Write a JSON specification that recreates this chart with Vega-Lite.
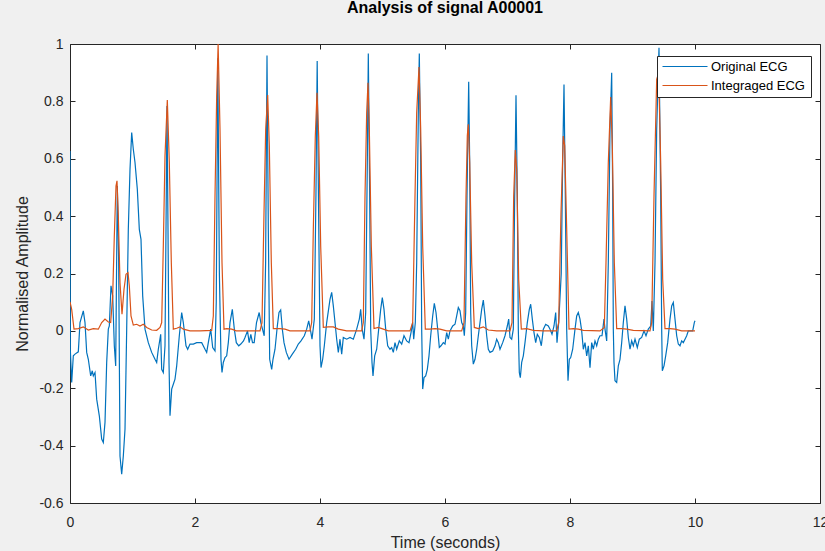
{
"$schema":"https://vega.github.io/schema/vega-lite/v6.json",
"width":750,"height":459,
"autosize":{"type":"none"},
"padding":{"left":70,"top":44,"right":5,"bottom":48},
"background":"#f0f0f0",
"config":{"view":{"fill":"white","stroke":"#262626","strokeWidth":1},"font":"Liberation Sans"},
"title":{"text":"Analysis of signal A00001","fontSize":16,"fontWeight":"bold","color":"#000000","font":"Liberation Sans","offset":8,"baseline":"alphabetic"},
"datasets":{
"orig":[
{"t":0,"v":0.627},{"t":0.005,"v":-0.064},{"t":0.027,"v":-0.18},{"t":0.053,"v":-0.087},{"t":0.08,"v":-0.081},{"t":0.133,"v":-0.073},{"t":0.16,"v":0.029},{"t":0.213,"v":0.07},{"t":0.24,"v":0.029},{"t":0.267,"v":-0.075},{"t":0.293,"v":-0.099},{"t":0.331,"v":-0.157},{"t":0.357,"v":-0.139},{"t":0.373,"v":-0.157},{"t":0.4,"v":-0.145},{"t":0.427,"v":-0.238},{"t":0.469,"v":-0.296},{"t":0.507,"v":-0.377},{"t":0.533,"v":-0.389},{"t":0.56,"v":-0.319},{"t":0.587,"v":-0.11},{"t":0.613,"v":0.006},{"t":0.629,"v":0.017},{"t":0.656,"v":0.157},{"t":0.683,"v":0.122},{"t":0.709,"v":-0.052},{"t":0.731,"v":-0.122},{"t":0.757,"v":0.505},{"t":0.779,"v":0.238},{"t":0.8,"v":-0.436},{"t":0.827,"v":-0.5},{"t":0.853,"v":-0.436},{"t":0.88,"v":-0.343},{"t":0.907,"v":0.006},{"t":0.933,"v":0.354},{"t":0.96,"v":0.563},{"t":0.987,"v":0.691},{"t":1.013,"v":0.633},{"t":1.04,"v":0.587},{"t":1.077,"v":0.494},{"t":1.109,"v":0.354},{"t":1.136,"v":0.319},{"t":1.163,"v":0.122},{"t":1.2,"v":0.006},{"t":1.253,"v":-0.041},{"t":1.307,"v":-0.075},{"t":1.36,"v":-0.099},{"t":1.387,"v":-0.11},{"t":1.413,"v":-0.064},{"t":1.451,"v":-0.012},{"t":1.467,"v":-0.134},{"t":1.493,"v":-0.145},{"t":1.52,"v":-0.052},{"t":1.536,"v":0.354},{"t":1.552,"v":0.784},{"t":1.568,"v":0.354},{"t":1.584,"v":-0.11},{"t":1.6,"v":-0.296},{"t":1.627,"v":-0.203},{"t":1.653,"v":-0.186},{"t":1.68,"v":-0.168},{"t":1.707,"v":-0.122},{"t":1.749,"v":-0.017},{"t":1.787,"v":0.064},{"t":1.813,"v":0.029},{"t":1.856,"v":-0.052},{"t":1.883,"v":-0.064},{"t":1.92,"v":-0.046},{"t":1.973,"v":-0.046},{"t":2.027,"v":-0.041},{"t":2.107,"v":-0.041},{"t":2.16,"v":-0.064},{"t":2.187,"v":-0.075},{"t":2.213,"v":-0.041},{"t":2.251,"v":0.006},{"t":2.283,"v":-0.058},{"t":2.32,"v":-0.07},{"t":2.34,"v":0.1},{"t":2.365,"v":0.95},{"t":2.39,"v":0.2},{"t":2.416,"v":-0.1},{"t":2.432,"v":-0.145},{"t":2.453,"v":-0.11},{"t":2.48,"v":-0.093},{"t":2.507,"v":-0.087},{"t":2.533,"v":-0.041},{"t":2.56,"v":0.029},{"t":2.597,"v":0.075},{"t":2.629,"v":0.006},{"t":2.661,"v":-0.041},{"t":2.7,"v":-0.052},{"t":2.733,"v":-0.046},{"t":2.776,"v":-0.035},{"t":2.8,"v":-0.023},{"t":2.84,"v":0},{"t":2.867,"v":-0.041},{"t":2.893,"v":-0.012},{"t":2.92,"v":-0.041},{"t":2.947,"v":-0.041},{"t":2.984,"v":0.029},{"t":3.027,"v":0.064},{"t":3.053,"v":0.029},{"t":3.08,"v":0.006},{"t":3.107,"v":-0.017},{"t":3.13,"v":0.238},{"t":3.152,"v":0.96},{"t":3.173,"v":0.354},{"t":3.195,"v":-0.099},{"t":3.227,"v":-0.134},{"t":3.248,"v":-0.099},{"t":3.28,"v":-0.064},{"t":3.317,"v":0.017},{"t":3.344,"v":0.064},{"t":3.371,"v":0.073},{"t":3.397,"v":0.006},{"t":3.424,"v":-0.041},{"t":3.461,"v":-0.075},{"t":3.504,"v":-0.099},{"t":3.557,"v":-0.081},{"t":3.611,"v":-0.064},{"t":3.653,"v":-0.046},{"t":3.696,"v":-0.035},{"t":3.749,"v":-0.017},{"t":3.787,"v":0.006},{"t":3.819,"v":0.035},{"t":3.845,"v":0.006},{"t":3.872,"v":-0.029},{"t":3.909,"v":0.041},{"t":3.935,"v":0.47},{"t":3.955,"v":0.941},{"t":3.975,"v":0.47},{"t":4.0,"v":-0.052},{"t":4.016,"v":-0.128},{"t":4.043,"v":-0.099},{"t":4.069,"v":-0.052},{"t":4.107,"v":0.029},{"t":4.16,"v":0.11},{"t":4.187,"v":0.134},{"t":4.213,"v":0.087},{"t":4.24,"v":0.029},{"t":4.267,"v":-0.029},{"t":4.293,"v":-0.075},{"t":4.32,"v":-0.029},{"t":4.347,"v":-0.081},{"t":4.373,"v":-0.023},{"t":4.427,"v":-0.029},{"t":4.48,"v":-0.023},{"t":4.533,"v":-0.029},{"t":4.587,"v":0.006},{"t":4.629,"v":0.041},{"t":4.651,"v":0.075},{"t":4.675,"v":0.006},{"t":4.704,"v":-0.029},{"t":4.731,"v":0.064},{"t":4.757,"v":0.587},{"t":4.773,"v":0.967},{"t":4.795,"v":0.47},{"t":4.811,"v":0.006},{"t":4.832,"v":-0.11},{"t":4.848,"v":-0.157},{"t":4.875,"v":-0.087},{"t":4.907,"v":-0.064},{"t":4.939,"v":0.006},{"t":4.971,"v":0.075},{"t":4.997,"v":0.116},{"t":5.024,"v":0.075},{"t":5.051,"v":0.006},{"t":5.083,"v":-0.052},{"t":5.12,"v":-0.064},{"t":5.147,"v":-0.058},{"t":5.173,"v":-0.075},{"t":5.2,"v":-0.041},{"t":5.227,"v":-0.064},{"t":5.269,"v":-0.035},{"t":5.307,"v":-0.046},{"t":5.344,"v":-0.017},{"t":5.387,"v":-0.035},{"t":5.424,"v":-0.041},{"t":5.456,"v":-0.006},{"t":5.483,"v":0.029},{"t":5.499,"v":-0.029},{"t":5.525,"v":0.029},{"t":5.547,"v":0.238},{"t":5.573,"v":0.761},{"t":5.589,"v":0.967},{"t":5.611,"v":0.587},{"t":5.627,"v":0.006},{"t":5.643,"v":-0.203},{"t":5.664,"v":-0.163},{"t":5.691,"v":-0.157},{"t":5.717,"v":-0.134},{"t":5.744,"v":-0.087},{"t":5.771,"v":-0.017},{"t":5.803,"v":0.052},{"t":5.829,"v":0.096},{"t":5.856,"v":0.064},{"t":5.883,"v":0.006},{"t":5.909,"v":-0.058},{"t":5.936,"v":-0.052},{"t":5.973,"v":-0.041},{"t":6.0,"v":-0.046},{"t":6.027,"v":-0.006},{"t":6.053,"v":-0.029},{"t":6.08,"v":0},{"t":6.123,"v":0.017},{"t":6.16,"v":0.023},{"t":6.187,"v":0.052},{"t":6.213,"v":0.081},{"t":6.24,"v":0.07},{"t":6.267,"v":0.029},{"t":6.293,"v":0.017},{"t":6.309,"v":-0.017},{"t":6.331,"v":0.064},{"t":6.352,"v":0.47},{"t":6.379,"v":0.868},{"t":6.395,"v":0.587},{"t":6.411,"v":0.064},{"t":6.427,"v":-0.052},{"t":6.453,"v":-0.116},{"t":6.48,"v":-0.099},{"t":6.507,"v":-0.064},{"t":6.533,"v":-0.017},{"t":6.56,"v":0.029},{"t":6.587,"v":0.075},{"t":6.613,"v":0.107},{"t":6.64,"v":0.052},{"t":6.667,"v":-0.017},{"t":6.693,"v":-0.064},{"t":6.72,"v":-0.075},{"t":6.763,"v":-0.07},{"t":6.8,"v":-0.052},{"t":6.827,"v":-0.029},{"t":6.853,"v":-0.041},{"t":6.88,"v":-0.064},{"t":6.923,"v":-0.041},{"t":6.96,"v":-0.017},{"t":6.997,"v":0.017},{"t":7.019,"v":0.041},{"t":7.04,"v":-0.023},{"t":7.067,"v":-0.029},{"t":7.093,"v":0.006},{"t":7.115,"v":0.47},{"t":7.136,"v":0.821},{"t":7.157,"v":0.47},{"t":7.173,"v":0.006},{"t":7.189,"v":-0.145},{"t":7.205,"v":-0.163},{"t":7.227,"v":-0.11},{"t":7.253,"v":-0.087},{"t":7.28,"v":-0.041},{"t":7.317,"v":0.029},{"t":7.349,"v":0.075},{"t":7.371,"v":0.093},{"t":7.397,"v":0.041},{"t":7.424,"v":-0.006},{"t":7.451,"v":-0.041},{"t":7.477,"v":-0.012},{"t":7.509,"v":-0.023},{"t":7.541,"v":-0.052},{"t":7.573,"v":0.006},{"t":7.611,"v":0.023},{"t":7.653,"v":0.017},{"t":7.68,"v":0.006},{"t":7.712,"v":-0.012},{"t":7.744,"v":0.017},{"t":7.771,"v":0.064},{"t":7.792,"v":-0.041},{"t":7.819,"v":0.029},{"t":7.86,"v":0.2},{"t":7.883,"v":0.6},{"t":7.904,"v":0.859},{"t":7.925,"v":0.47},{"t":7.947,"v":0.006},{"t":7.968,"v":-0.174},{"t":7.989,"v":-0.099},{"t":8.011,"v":-0.093},{"t":8.043,"v":-0.064},{"t":8.08,"v":0.006},{"t":8.107,"v":0.052},{"t":8.133,"v":0.064},{"t":8.16,"v":0.041},{"t":8.187,"v":0},{"t":8.213,"v":-0.064},{"t":8.24,"v":-0.041},{"t":8.267,"v":-0.087},{"t":8.293,"v":-0.052},{"t":8.32,"v":-0.128},{"t":8.347,"v":-0.041},{"t":8.373,"v":-0.064},{"t":8.4,"v":-0.035},{"t":8.427,"v":-0.052},{"t":8.453,"v":-0.029},{"t":8.48,"v":-0.017},{"t":8.512,"v":-0.017},{"t":8.544,"v":0.041},{"t":8.56,"v":0.006},{"t":8.587,"v":-0.035},{"t":8.613,"v":0.238},{"t":8.64,"v":0.703},{"t":8.667,"v":0.9},{"t":8.683,"v":0.47},{"t":8.693,"v":0.006},{"t":8.704,"v":-0.11},{"t":8.72,"v":-0.174},{"t":8.747,"v":-0.18},{"t":8.773,"v":-0.122},{"t":8.8,"v":-0.099},{"t":8.827,"v":-0.041},{"t":8.853,"v":0.029},{"t":8.88,"v":0.087},{"t":8.907,"v":0.041},{"t":8.933,"v":-0.023},{"t":8.96,"v":-0.064},{"t":8.987,"v":-0.035},{"t":9.013,"v":-0.052},{"t":9.04,"v":-0.029},{"t":9.077,"v":-0.058},{"t":9.109,"v":-0.029},{"t":9.147,"v":-0.023},{"t":9.184,"v":0},{"t":9.216,"v":-0.017},{"t":9.253,"v":0.006},{"t":9.291,"v":0.017},{"t":9.312,"v":0.104},{"t":9.333,"v":0},{"t":9.36,"v":0.238},{"t":9.387,"v":0.703},{"t":9.424,"v":0.987},{"t":9.451,"v":0.47},{"t":9.467,"v":0.006},{"t":9.477,"v":-0.139},{"t":9.504,"v":-0.122},{"t":9.531,"v":-0.087},{"t":9.563,"v":-0.041},{"t":9.6,"v":0.041},{"t":9.627,"v":0.087},{"t":9.653,"v":0.099},{"t":9.68,"v":0.041},{"t":9.707,"v":-0.017},{"t":9.733,"v":-0.046},{"t":9.76,"v":-0.052},{"t":9.787,"v":-0.035},{"t":9.813,"v":-0.041},{"t":9.84,"v":-0.029},{"t":9.867,"v":-0.017},{"t":9.893,"v":0},{"t":9.931,"v":0},{"t":9.963,"v":0},{"t":9.989,"v":0.029},{"t":10.0,"v":0.035}
],
"integ":[
{"t":0,"v":0.101},{"t":0.027,"v":0.075},{"t":0.064,"v":0.006},{"t":0.133,"v":0.008},{"t":0.213,"v":0.014},{"t":0.293,"v":0.003},{"t":0.373,"v":0.008},{"t":0.453,"v":0.006},{"t":0.507,"v":0.029},{"t":0.56,"v":0.041},{"t":0.613,"v":0.031},{"t":0.651,"v":0.029},{"t":0.683,"v":0.122},{"t":0.709,"v":0.331},{"t":0.736,"v":0.505},{"t":0.752,"v":0.523},{"t":0.773,"v":0.401},{"t":0.8,"v":0.168},{"t":0.832,"v":0.058},{"t":0.864,"v":0.145},{"t":0.896,"v":0.197},{"t":0.928,"v":0.203},{"t":0.949,"v":0.157},{"t":0.976,"v":0.052},{"t":1.013,"v":0.02},{"t":1.067,"v":0.023},{"t":1.12,"v":0.017},{"t":1.173,"v":0.023},{"t":1.227,"v":0.012},{"t":1.307,"v":0.003},{"t":1.387,"v":0.002},{"t":1.44,"v":0.012},{"t":1.467,"v":0.029},{"t":1.493,"v":0.296},{"t":1.52,"v":0.61},{"t":1.557,"v":0.805},{"t":1.589,"v":0.587},{"t":1.621,"v":0.238},{"t":1.653,"v":0.006},{"t":1.707,"v":0.009},{"t":1.76,"v":0.014},{"t":1.813,"v":0.006},{"t":1.92,"v":0},{"t":2.08,"v":0},{"t":2.267,"v":0.002},{"t":2.293,"v":0.052},{"t":2.32,"v":0.47},{"t":2.347,"v":0.819},{"t":2.37,"v":1.0},{"t":2.4,"v":0.703},{"t":2.432,"v":0.238},{"t":2.464,"v":0.006},{"t":2.507,"v":0.008},{"t":2.587,"v":0.006},{"t":2.661,"v":0},{"t":2.827,"v":0},{"t":3.04,"v":0},{"t":3.072,"v":0.029},{"t":3.104,"v":0.412},{"t":3.131,"v":0.703},{"t":3.163,"v":0.822},{"t":3.189,"v":0.645},{"t":3.221,"v":0.238},{"t":3.253,"v":0.008},{"t":3.36,"v":0.008},{"t":3.44,"v":0.006},{"t":3.52,"v":0},{"t":3.84,"v":0},{"t":3.867,"v":0.029},{"t":3.893,"v":0.354},{"t":3.925,"v":0.679},{"t":3.952,"v":0.83},{"t":3.979,"v":0.679},{"t":4.011,"v":0.296},{"t":4.053,"v":0.012},{"t":4.133,"v":0.014},{"t":4.213,"v":0.014},{"t":4.293,"v":0.006},{"t":4.427,"v":0},{"t":4.667,"v":0},{"t":4.693,"v":0.029},{"t":4.72,"v":0.47},{"t":4.747,"v":0.761},{"t":4.768,"v":0.865},{"t":4.789,"v":0.703},{"t":4.821,"v":0.296},{"t":4.864,"v":0.008},{"t":4.933,"v":0.012},{"t":5.013,"v":0.006},{"t":5.093,"v":0},{"t":5.44,"v":0},{"t":5.483,"v":0.029},{"t":5.52,"v":0.47},{"t":5.547,"v":0.761},{"t":5.584,"v":0.92},{"t":5.611,"v":0.703},{"t":5.643,"v":0.296},{"t":5.685,"v":0.006},{"t":5.76,"v":0.006},{"t":5.84,"v":0.008},{"t":5.92,"v":0.006},{"t":6.027,"v":0},{"t":6.267,"v":0},{"t":6.304,"v":0.029},{"t":6.336,"v":0.47},{"t":6.357,"v":0.68},{"t":6.373,"v":0.72},{"t":6.395,"v":0.587},{"t":6.427,"v":0.238},{"t":6.469,"v":0.012},{"t":6.533,"v":0.008},{"t":6.613,"v":0.014},{"t":6.693,"v":0.003},{"t":6.827,"v":0},{"t":7.04,"v":0},{"t":7.072,"v":0.029},{"t":7.099,"v":0.47},{"t":7.125,"v":0.63},{"t":7.147,"v":0.563},{"t":7.179,"v":0.18},{"t":7.221,"v":0.006},{"t":7.307,"v":0.008},{"t":7.413,"v":0.002},{"t":7.573,"v":0},{"t":7.787,"v":0},{"t":7.819,"v":0.029},{"t":7.856,"v":0.412},{"t":7.893,"v":0.679},{"t":7.915,"v":0.645},{"t":7.947,"v":0.354},{"t":7.984,"v":0.006},{"t":8.053,"v":0.008},{"t":8.133,"v":0.006},{"t":8.213,"v":0.002},{"t":8.48,"v":0},{"t":8.549,"v":0.012},{"t":8.576,"v":0.238},{"t":8.613,"v":0.587},{"t":8.651,"v":0.815},{"t":8.677,"v":0.645},{"t":8.709,"v":0.238},{"t":8.747,"v":0.008},{"t":8.827,"v":0.008},{"t":8.907,"v":0.006},{"t":9.013,"v":0.002},{"t":9.28,"v":0},{"t":9.307,"v":0.029},{"t":9.344,"v":0.47},{"t":9.387,"v":0.877},{"t":9.419,"v":0.9},{"t":9.451,"v":0.587},{"t":9.483,"v":0.18},{"t":9.52,"v":0.008},{"t":9.6,"v":0.008},{"t":9.68,"v":0.006},{"t":9.787,"v":0},{"t":10.0,"v":0}
]
},
"layer":[
{
"data":{"name":"orig"},
"transform":[{"fold":["v"],"as":["k","val"]},{"lookup":"k","from":{"data":{"values":[{"k":"v","s":"Original ECG"}]},"key":"k","fields":["s"]}}],
"mark":{"type":"line","strokeWidth":1.2,"clip":true},
"encoding":{
"x":{"field":"t","type":"quantitative","scale":{"domain":[0,12],"nice":false,"zero":false},
"axis":{"values":[0,2,4,6,8,10,12],"tickSize":-5,"tickColor":"#262626","domain":false,"grid":false,"labelFlush":false,"labelOverlap":false,"labelPadding":17,"labelFontSize":14,"labelColor":"#262626","labelFont":"Liberation Sans","title":"Time (seconds)","titleFontSize":16,"titleFontWeight":"normal","titleColor":"#262626","titleFont":"Liberation Sans","titlePadding":5}},
"y":{"field":"val","type":"quantitative","scale":{"domain":[-0.6,1],"nice":false,"zero":false},
"axis":{"values":[-0.6,-0.4,-0.2,0,0.2,0.4,0.6,0.8,1],"labelExpr":"datum.value < 0 ? '-' + format(-datum.value, '~g') : format(datum.value, '~g')","tickSize":-5,"tickColor":"#262626","domain":false,"grid":false,"labelFlush":false,"labelOverlap":false,"labelPadding":12,"labelFontSize":14,"labelColor":"#262626","labelFont":"Liberation Sans","title":"Normalised Amplitude","titleFontSize":16,"titleFontWeight":"normal","titleColor":"#262626","titleFont":"Liberation Sans","titlePadding":8}},
"color":{"field":"s","type":"nominal","scale":{"domain":["Original ECG","Integraged ECG"],"range":["#0072BD","#D95319"]},
"legend":{"orient":"none","legendX":587,"legendY":12,"title":null,"padding":4,"strokeColor":"#262626","fillColor":"white","cornerRadius":0,"symbolType":"M-1,0H8M27.4,0","symbolSize":100,"symbolStrokeWidth":1.2,"labelOffset":37,"labelFontSize":13,"labelColor":"#000000","labelFont":"Liberation Sans","rowPadding":5}}
}
},
{
"data":{"name":"integ"},
"transform":[{"fold":["v"],"as":["k","val"]},{"lookup":"k","from":{"data":{"values":[{"k":"v","s":"Integraged ECG"}]},"key":"k","fields":["s"]}}],
"mark":{"type":"line","strokeWidth":1.2,"clip":true},
"encoding":{
"x":{"field":"t","type":"quantitative","axis":{"orient":"top","values":[0,2,4,6,8,10,12],"tickSize":-5,"tickColor":"#262626","domain":false,"grid":false,"labels":false,"title":null}},
"y":{"field":"val","type":"quantitative","axis":{"orient":"right","values":[-0.6,-0.4,-0.2,0,0.2,0.4,0.6,0.8,1],"tickSize":-5,"tickColor":"#262626","domain":false,"grid":false,"labels":false,"title":null}},
"color":{"field":"s","type":"nominal"}
}
}
],
"resolve":{"axis":{"x":"independent","y":"independent"}}
}
